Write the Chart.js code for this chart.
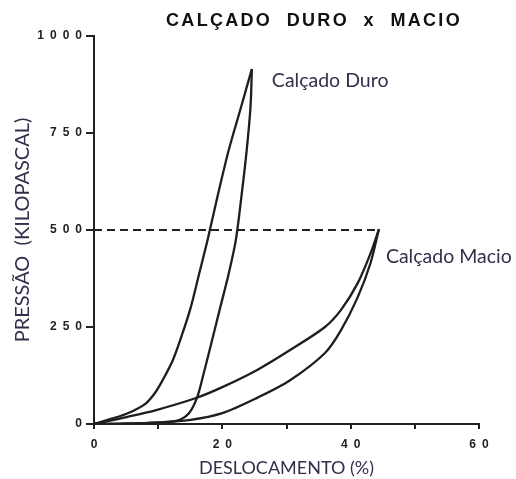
<!DOCTYPE html>
<html>
<head>
<meta charset="utf-8">
<script src="https://cdn.jsdelivr.net/npm/chart.js@4.4.1/dist/chart.umd.min.js"></script>
<style>
  html, body { margin: 0; padding: 0; background: #fff; }
  #wrap { width: 516px; height: 479px; }
</style>
</head>
<body>
<div id="wrap"><canvas id="chart" width="516" height="479"></canvas></div>
<script>
// Calçado duro: carga (subida) e descarga (volta)
const duroCargaX = [0, 2, 4, 6, 8, 9.5, 10.7, 12.3, 13.8, 15.1, 16.4, 17.7, 19.3, 21, 22.8, 24.6];
const duroCargaY = [0, 10, 20, 33, 52, 80, 113, 165, 234, 302, 388, 474, 590, 706, 810, 915];
const duroDescargaX = [24.6, 24.4, 23.8, 23.0, 22.1, 21.0, 19.7, 18.4, 17.1, 16.1, 14.8, 12.8, 9, 4, 0];
const duroDescargaY = [915, 820, 706, 590, 474, 388, 302, 216, 131, 70, 28, 8, 3, 1, 0];

// Calçado macio
const macioCargaX = [0, 5.1, 9.7, 15.9, 20, 25.5, 30.5, 36, 38.5, 41.1, 43.1, 44.4];
const macioCargaY = [0, 18, 36, 67, 95, 140, 190, 250, 294, 363, 440, 502];
const macioDescargaX = [44.4, 43.1, 41.1, 38.5, 36, 30.5, 25.5, 20, 14.8, 10, 5, 0];
const macioDescargaY = [502, 415, 327, 242, 183, 112, 68, 28, 10, 4, 1, 0];

// linha tracejada de referência em 500 kPa
const limiteX = [0, 44.4];
const limiteY = [500, 500];

const yTicks = [0, 250, 500, 750, 1000];
const xTicks = [0, 20, 40, 60];

const titulo = "CALÇADO  DURO  x  MACIO";
const rotuloDuro = "Calçado Duro";
const rotuloMacio = "Calçado Macio";

const pts = (xs, ys) => xs.map((x, i) => ({ x, y: ys[i] }));
const espacado = (v) => String(v).split("").join("\u2002");

const curva = (xs, ys) => ({
  data: pts(xs, ys),
  showLine: true,
  borderColor: "#1e1e1e",
  borderWidth: 2.3,
  pointRadius: 0,
  tension: 0.3,
  fill: false,
});

const textos = {
  id: "textos",
  afterDraw(chart) {
    const { ctx, scales: { x, y } } = chart;
    ctx.save();
    ctx.fillStyle = "#111";
    ctx.font = "bold 18px 'Liberation Sans', Arial, sans-serif";
    ctx.letterSpacing = "2.3px";
    ctx.textAlign = "center";
    ctx.textBaseline = "middle";
    ctx.fillText(titulo, 314, 21);
    ctx.letterSpacing = "0px";

    ctx.fillStyle = "#30304a";
    ctx.font = "19.5px Lato, sans-serif";
    ctx.textAlign = "left";
    const px1 = x.getPixelForValue(duroCargaX[duroCargaX.length - 1]);
    const py1 = y.getPixelForValue(duroCargaY[duroCargaY.length - 1]);
    ctx.fillText(rotuloDuro, px1 + 20, py1 + 12);
    const px2 = x.getPixelForValue(macioCargaX[macioCargaX.length - 1]);
    const py2 = y.getPixelForValue(macioCargaY[macioCargaY.length - 1]);
    ctx.fillText(rotuloMacio, px2 + 7, py2 + 27);
    ctx.restore();
  },
};

new Chart(document.getElementById("chart"), {
  type: "scatter",
  data: {
    datasets: [
      curva(duroCargaX, duroCargaY),
      curva(duroDescargaX, duroDescargaY),
      curva(macioCargaX, macioCargaY),
      curva(macioDescargaX, macioDescargaY),
      {
        data: pts(limiteX, limiteY),
        showLine: true,
        borderColor: "#222",
        borderWidth: 2,
        borderDash: [8, 5],
        pointRadius: 0,
      },
    ],
  },
  options: {
    responsive: false,
    animation: false,
    devicePixelRatio: 1,
    layout: { padding: { left: 0, top: 36, right: 37, bottom: 0 } },
    plugins: { legend: { display: false }, tooltip: { enabled: false } },
    scales: {
      x: {
        type: "linear",
        min: 0, max: 60,
        afterFit: (s) => { s.height = 55; },
        ticks: {
          stepSize: 10, autoSkip: false, padding: 8, color: "#222",
          font: { family: "'Liberation Sans', Arial", size: 12, weight: "bold" },
          callback: (v) => (xTicks.includes(v) ? espacado(v) : ""),
        },
        grid: { drawOnChartArea: false, drawTicks: true, tickLength: 5, color: "#222", lineWidth: 2 },
        border: { color: "#222", width: 2 },
        title: {
          display: true, text: "DESLOCAMENTO (%)", color: "#30304a",
          font: { family: "Lato", size: 18 }, padding: { top: 0, bottom: 0 },
        },
      },
      y: {
        min: 0, max: 1000,
        afterFit: (s) => { s.width = 94; },
        ticks: {
          stepSize: 250, autoSkip: false, padding: 4, color: "#222",
          font: { family: "'Liberation Sans', Arial", size: 12, weight: "bold" },
          callback: (v) => (yTicks.includes(v) ? espacado(v) : ""),
        },
        grid: { drawOnChartArea: false, drawTicks: true, tickLength: 8, color: "#222", lineWidth: 2 },
        border: { color: "#222", width: 2 },
        title: {
          display: true, text: "PRESSÃO  (KILOPASCAL)", color: "#30304a",
          font: { family: "Lato", size: 20 }, padding: { top: 11, bottom: 0 },
        },
      },
    },
  },
  plugins: [textos],
});
</script>
</body>
</html>
